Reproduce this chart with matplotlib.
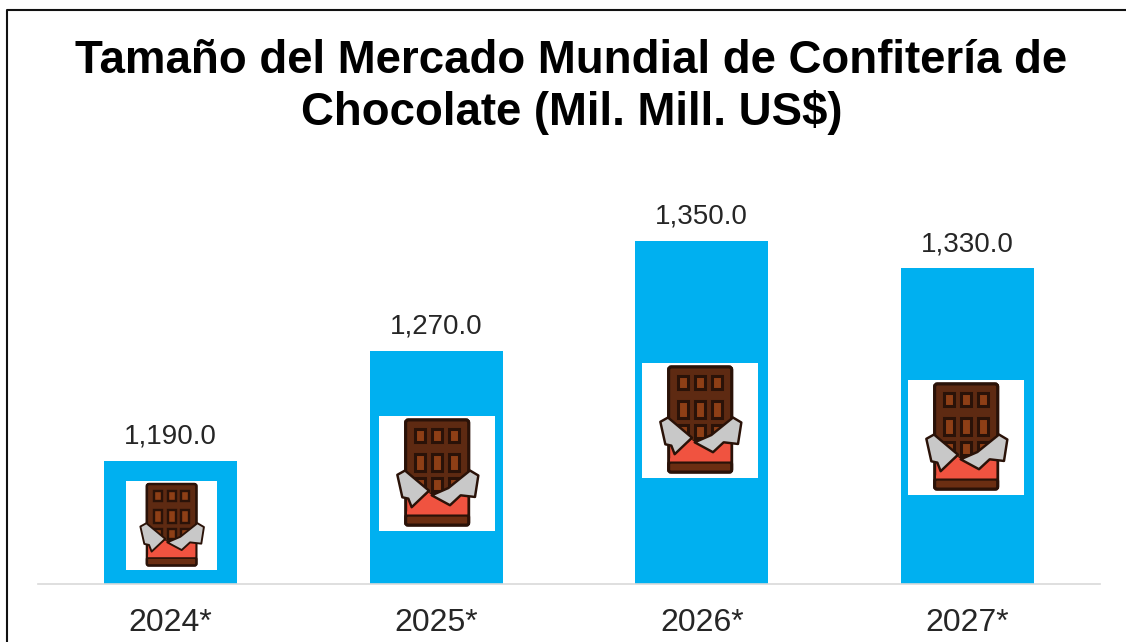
import matplotlib
matplotlib.use("Agg")
import matplotlib.pyplot as plt
from matplotlib.patches import FancyBboxPatch, Polygon, Rectangle

# -----------------------------
# Data
# -----------------------------
YEARS = ["2024*", "2025*", "2026*", "2027*"]
VALUES = [1190.0, 1270.0, 1350.0, 1330.0]
TITLE = "Tamaño del Mercado Mundial de Confitería de\nChocolate (Mil. Mill. US$)"

W, H = 1126, 642
BLUE = "#00B0F0"

plt.rcParams["font.family"] = ["Liberation Sans", "DejaVu Sans"]


def px_axes(fig, x0, y0, x1, y1, **kw):
    # pixel box measured from the top left corner
    return fig.add_axes([x0 / W, 1 - y1 / H, (x1 - x0) / W, (y1 - y0) / H], **kw)


def draw_icon(fig, box):
    ax = px_axes(fig, *box)
    ax.set_xlim(0, 348)
    ax.set_ylim(348, 0)
    ax.axis("off")
    ax.add_patch(Rectangle((0, 0), 348, 348, fc="white", ec="none"))

    dark = "#2A1208"
    lw = 2.2 * (box[2] - box[0]) / 116

    # red wrapper and bottom band
    ax.add_patch(FancyBboxPatch((80, 12), 189, 318, boxstyle="round,pad=0,rounding_size=8",
                                fc="#F05340", ec=dark, lw=lw, zorder=2))
    ax.add_patch(FancyBboxPatch((80, 300), 189, 30, boxstyle="round,pad=0,rounding_size=6",
                                fc="#6B2E12", ec=dark, lw=lw, zorder=3))

    # chocolate bar with its 3x3 squares
    ax.add_patch(FancyBboxPatch((80, 12), 189, 225, boxstyle="round,pad=0,rounding_size=8",
                                fc="#5E2A12", ec=dark, lw=lw, zorder=3))
    for cx in (123, 175, 226):
        for cy, h in ((59, 42), (140, 50), (208, 40)):
            ax.add_patch(Rectangle((cx - 15, cy - h / 2), 30, h, fc="#8E3F16", ec=dark,
                                   lw=lw, zorder=4))

    # red V in front of the lower squares
    ax.add_patch(Polygon([(84, 290), (148, 232), (212, 272), (265, 240), (265, 298), (84, 298)],
                         fc="#F05340", ec="none", zorder=5))
    # silver foil flaps
    left = [(55, 178), (78, 165), (150, 226), (98, 276), (88, 250), (70, 246)]
    right = [(158, 240), (208, 218), (273, 165), (298, 180), (288, 245), (245, 240), (213, 270)]
    for pts in (left, right):
        ax.add_patch(Polygon(pts, closed=True, fc="#C8C8C8", ec=dark, lw=lw * 0.8,
                             joinstyle="round", zorder=6))


def main():
    fig = plt.figure(figsize=(W / 100, H / 100), dpi=100)

    # outer frame, only the left and top lines fall inside the image
    fig.add_artist(plt.Line2D([7.5 / W, 7.5 / W, 1], [0, 1 - 9.5 / H, 1 - 9.5 / H],
                              color="#111111", lw=1.5))

    fig.text(571.5 / W, 1 - 87 / H, TITLE, ha="center", va="center", fontsize=32.9,
             fontweight="bold", color="black", linespacing=1.22)

    ax = px_axes(fig, 38, 100, 1100, 584)
    positions = range(len(YEARS))
    ax.bar(positions, VALUES, width=0.5, color=BLUE, zorder=2)
    ax.set_xlim(-0.5, 3.5)
    ax.set_ylim(1100.5, 1100.5 + 484 / 1.375)
    ax.set_xticks(list(positions))
    ax.set_xticklabels(YEARS, fontsize=23, color="#262626")
    ax.set_yticks([])
    ax.tick_params(axis="x", length=0, pad=17)
    for side in ("top", "left", "right"):
        ax.spines[side].set_visible(False)
    ax.spines["bottom"].set_color("#D9D9D9")
    ax.spines["bottom"].set_linewidth(1.2)
    ax.patch.set_visible(False)

    for x, v in zip(positions, VALUES):
        ax.annotate(f"{v:,.1f}", (x, v), xytext=(0, 8), textcoords="offset points",
                    ha="center", va="bottom", fontsize=20, color="#262626")

    # chocolate pictures placed over the bars
    for box in [(126, 481, 217, 570), (379, 416, 495, 531),
                (642, 363, 758, 478), (908, 380, 1024, 495)]:
        draw_icon(fig, box)

    fig.savefig("out.png", dpi=100)
    plt.close(fig)


if __name__ == "__main__":
    main()
